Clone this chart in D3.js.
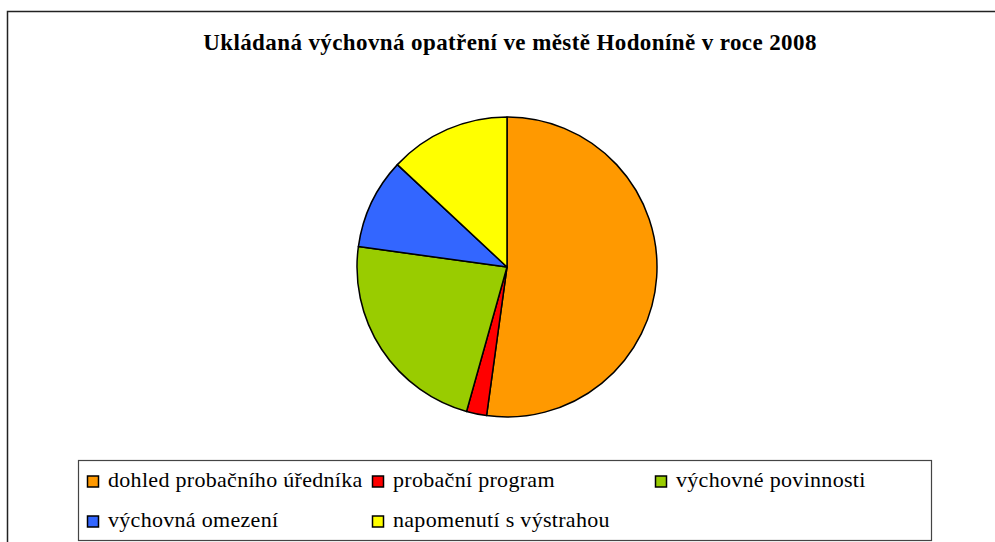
<!DOCTYPE html>
<html><head><meta charset="utf-8">
<script src="https://cdn.jsdelivr.net/npm/d3@7"></script>
<style>body{margin:0;background:#fff;} svg{display:block;}</style>
</head><body>
<svg id="c" width="995" height="542"></svg>
<script>
const title = "Ukládaná výchovná opatření ve městě Hodoníně v roce 2008";
const categories = ["dohled probačního úředníka","probační program","výchovné povinnosti","výchovná omezení","napomenutí s výstrahou"];
const values = [48, 2, 21, 9, 12];
const colors = ["#FF9900","#FF0000","#99CC00","#3366FF","#FFFF00"];

const svg = d3.select("#c");
const font = "'Liberation Serif'";

// outer chart border
svg.append("rect").attr("x",7.5).attr("y",11.5).attr("width",1000).attr("height",600)
  .attr("fill","#fff").attr("stroke","#222").attr("stroke-width",1.5);

svg.append("text").attr("x",510).attr("y",50).attr("text-anchor","middle")
  .attr("font-family",font).attr("font-weight","bold").attr("font-size",23)
  .attr("letter-spacing",0.4)
  .attr("fill","#000").text(title);

const cx = 507, cy = 267, r = 150;
const pie = d3.pie().sort(null).value(d=>d)(values);
const arc = d3.arc().innerRadius(0).outerRadius(r);
const g = svg.append("g").attr("transform",`translate(${cx},${cy})`);
g.selectAll("path").data(pie).join("path")
  .attr("d",arc).attr("fill",(d,i)=>colors[i])
  .attr("stroke","#000").attr("stroke-width",1.5).attr("stroke-linejoin","round");

// legend
svg.append("rect").attr("x",78.5).attr("y",460.5).attr("width",853).attr("height",80)
  .attr("fill","none").attr("stroke","#444").attr("stroke-width",1.2);
const colX = [87, 372, 655];
const rowY = [486.5, 526.5];
const lg = svg.append("g");
categories.forEach((c,i)=>{
  const col = i < 3 ? i : i-3;
  const row = i < 3 ? 0 : 1;
  const x = colX[col], y = rowY[row];
  lg.append("rect").attr("x",x+0.5).attr("y",y-10.5).attr("width",11).attr("height",11)
    .attr("fill",colors[i]).attr("stroke","#000").attr("stroke-width",1.5);
  lg.append("text").attr("x",x+21).attr("y",y)
    .attr("font-family",font).attr("font-size",22).attr("letter-spacing",0.3)
    .attr("fill","#000").text(c);
});
</script>
</body></html>
